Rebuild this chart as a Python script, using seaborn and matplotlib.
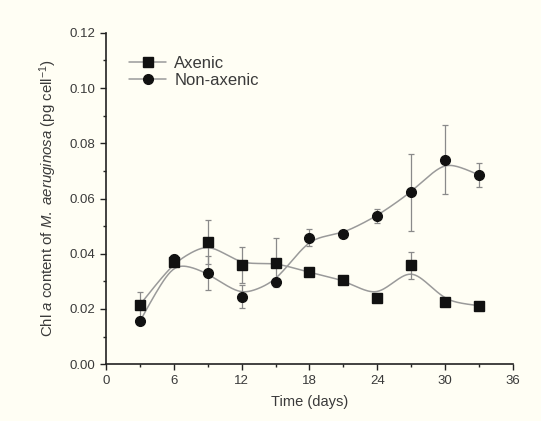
import numpy as np
import pandas as pd
import matplotlib
matplotlib.use('Agg')
import matplotlib.pyplot as plt
import seaborn as sns
from matplotlib.ticker import MultipleLocator

# 데이터
days = [3, 6, 9, 12, 15, 18, 21, 24, 27, 30, 33]
axenic = [0.0215, 0.0370, 0.0442, 0.0360, 0.0368, 0.0332, 0.0305, 0.0240, 0.0358, 0.0226, 0.0212]
axenic_err = [0.0045, 0.0010, 0.0080, 0.0065, 0.0090, 0.0010, 0.0010, 0.0008, 0.0050, 0.0008, 0.0008]
nonaxenic = [0.0155, 0.0380, 0.0330, 0.0245, 0.0297, 0.0458, 0.0473, 0.0537, 0.0622, 0.0740, 0.0685]
nonaxenic_err = [0.0010, 0.0015, 0.0060, 0.0040, 0.0010, 0.0030, 0.0010, 0.0025, 0.0140, 0.0125, 0.0045]

sns.set_style("ticks")
plt.rcParams['font.family'] = ['Liberation Sans', 'DejaVu Sans']
plt.rcParams['mathtext.fontset'] = 'custom'
plt.rcParams['mathtext.rm'] = 'Liberation Sans'
plt.rcParams['mathtext.it'] = 'Liberation Sans:italic'

bg = '#fffef4'
text_c = '#3a3a3a'
line_c = '#9a9a9a'


def smooth_curve(x, y, bw=1.6):
    # 국소 선형 커널 평활 (곡선 표시용)
    x = np.asarray(x, float)
    y = np.asarray(y, float)
    xs = np.linspace(x.min(), x.max(), 300)
    ys = []
    for x0 in xs:
        w = np.exp(-0.5 * ((x - x0) / bw) ** 2)
        X = np.vstack([np.ones_like(x), x - x0]).T
        W = np.diag(w)
        beta = np.linalg.solve(X.T @ W @ X, X.T @ W @ y)
        ys.append(beta[0])
    return xs, np.array(ys)


fig = plt.figure(figsize=(5.41, 4.21), dpi=100, facecolor=bg)
ax = fig.add_axes([0.196, 0.135, 0.752, 0.787])
ax.set_facecolor(bg)

series = [
    ('Axenic', axenic, axenic_err, 's'),
    ('Non-axenic', nonaxenic, nonaxenic_err, 'o'),
]
for name, vals, errs, mk in series:
    xs, ys = smooth_curve(days, vals)
    sns.lineplot(x=xs, y=ys, ax=ax, color=line_c, lw=1.1, zorder=2)
    ax.errorbar(days, vals, yerr=errs, fmt='none', ecolor='#8a8a8a',
                elinewidth=0.9, capsize=2.5, capthick=0.9, zorder=3)
    ax.plot(days, vals, ls='none', marker=mk, ms=7, color='#111111', zorder=4)
    # 범례용 핸들
    ax.plot([], [], color=line_c, lw=1.1, marker=mk, ms=7,
            markerfacecolor='#111111', markeredgecolor='#111111', label=name)

ax.set_xlim(0, 36)
ax.set_ylim(0, 0.12)
ax.xaxis.set_major_locator(MultipleLocator(6))
ax.xaxis.set_minor_locator(MultipleLocator(3))
ax.yaxis.set_major_locator(MultipleLocator(0.02))
ax.yaxis.set_minor_locator(MultipleLocator(0.01))
ax.yaxis.set_major_formatter(matplotlib.ticker.FormatStrFormatter('%.2f'))
ax.tick_params(which='major', direction='out', length=4, width=1, colors='#222222',
               labelcolor=text_c, labelsize=9.5)
ax.tick_params(which='minor', direction='out', length=2.5, width=1, colors='#222222')
for s in ['top', 'right']:
    ax.spines[s].set_visible(False)
for s in ['left', 'bottom']:
    ax.spines[s].set_color('#222222')
    ax.spines[s].set_linewidth(1.2)

ax.set_xlabel('Time (days)', color=text_c, fontsize=10.5, labelpad=6)
ax.set_ylabel(r'Chl $\it{a}$ content of $\it{M.\ aeruginosa}$ (pg cell$^{-1}$)',
              color=text_c, fontsize=10.8, labelpad=8)

leg = ax.legend(loc='upper left', bbox_to_anchor=(0.02, 0.975), frameon=False,
                fontsize=12, handlelength=2.2, labelspacing=0.1, handletextpad=0.5)
for t in leg.get_texts():
    t.set_color(text_c)

fig.savefig('out.png', dpi=100, facecolor=bg)
